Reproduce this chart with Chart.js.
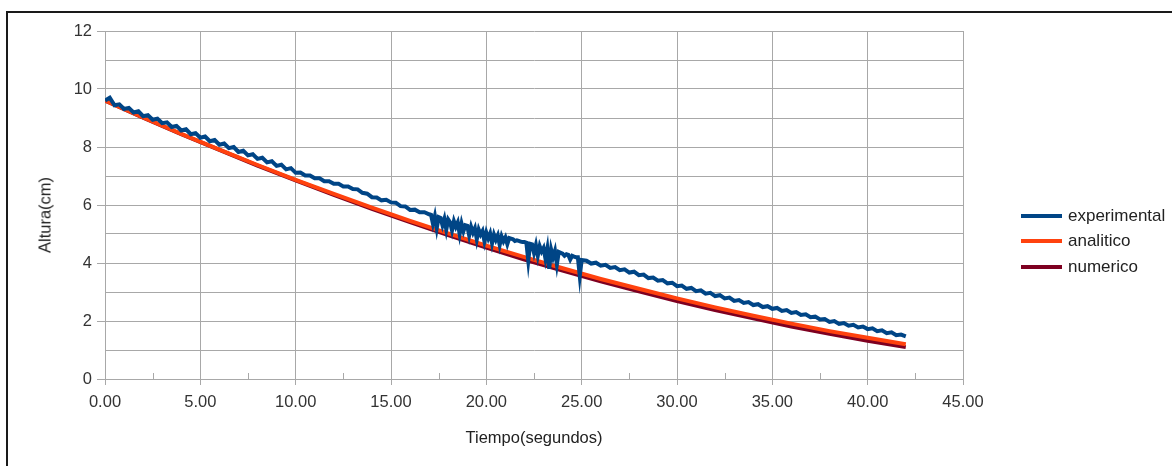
<!DOCTYPE html>
<html lang="es">
<head>
<meta charset="utf-8">
<title>Altura vs Tiempo</title>
<script src="https://cdn.jsdelivr.net/npm/chart.js@4/dist/chart.umd.min.js"></script>
<style>
  body { margin: 0; background: #fff; }
  #marco { position: absolute; left: 0; top: 0; width: 1172px; height: 466px; overflow: hidden; }
  #borde { position: absolute; left: 6px; top: 11px; width: 1200px; height: 500px;
           border-left: 2px solid #1a1a1a; border-top: 2px solid #1a1a1a; }
  #grafico { position: absolute; left: 0; top: 0; }
  #tituloY { position: absolute; left: 45px; top: 215px; transform: translate(-50%, -50%) rotate(-90deg);
             font-family: "Liberation Sans", Arial, sans-serif; font-size: 16.5px; color: #222; white-space: nowrap; }
  #leyenda { position: absolute; left: 1021px; top: 203px; font-family: "Liberation Sans", Arial, sans-serif;
             font-size: 17px; color: #222; }
  .fila { display: flex; align-items: center; height: 25.5px; }
  .muestra { width: 41px; height: 4px; margin-right: 6px; }
</style>
</head>
<body>
<div id="marco">
  <div id="borde"></div>
  <canvas id="grafico" width="1172" height="466"></canvas>
  <div id="tituloY">Altura(cm)</div>
  <div id="leyenda"></div>
</div>
<script>
// Tiempos (s) de las curvas teóricas
const tiempoModelo = [0, 2, 4, 6, 8, 10, 12, 14, 16, 18, 20, 22, 24, 26, 28, 30, 32, 34, 36, 38, 40, 42];

// Altura (cm) solucion analitica
const alturaAnalitico = [9.60, 9.02, 8.45, 7.91, 7.38, 6.87, 6.38, 5.91, 5.45, 5.02, 4.60,
  4.20, 3.82, 3.45, 3.11, 2.78, 2.47, 2.18, 1.91, 1.65, 1.42, 1.20];

// Altura (cm) solucion numerica
const alturaNumerico = [9.60, 9.01, 8.44, 7.90, 7.36, 6.85, 6.35, 5.87, 5.41, 4.96, 4.53,
  4.12, 3.74, 3.37, 3.02, 2.69, 2.38, 2.09, 1.81, 1.56, 1.32, 1.10];

// Medidas experimentales de 0 a 16.75 s, cada 0.25 s (una fila por segundo)
const pasoExp = 0.25;
const alturaExpInicio = [
  9.60, 9.70, 9.44, 9.47,
  9.31, 9.35, 9.19, 9.23,
  9.06, 9.10, 8.94, 8.98,
  8.82, 8.85, 8.69, 8.73,
  8.57, 8.61, 8.44, 8.48,
  8.32, 8.36, 8.20, 8.24,
  8.08, 8.12, 7.96, 8.00,
  7.83, 7.87, 7.71, 7.75,
  7.59, 7.63, 7.47, 7.51,
  7.35, 7.39, 7.23, 7.27,
  7.11, 7.12, 7.02, 7.02,
  6.92, 6.92, 6.82, 6.82,
  6.73, 6.73, 6.64, 6.64,
  6.55, 6.54, 6.42, 6.39,
  6.27, 6.26, 6.16, 6.18,
  6.09, 6.08, 5.96, 5.95,
  5.83, 5.84, 5.75, 5.75
];

// Tramo con ruido, de 17.0 a 24.9 s, cada 0.1 s (una fila por segundo)
const inicioRuido = 17;
const pasoRuido = 0.1;
const alturaExpRuido = [
  5.68, 5.66, 5.35, 5.62, 5.20, 5.58, 5.55, 5.30, 5.52, 5.15,
  5.50, 5.40, 5.12, 5.44, 5.25, 5.40, 5.00, 5.36, 5.10, 5.30,
  5.28, 4.95, 5.25, 5.05, 5.20, 4.82, 5.15, 4.98, 5.10, 4.75,
  5.05, 4.85, 5.02, 4.68, 4.98, 4.80, 4.95, 4.62, 4.92, 4.75,
  4.88, 4.65, 4.86, 4.84, 4.82, 4.76, 4.78, 4.76, 4.74, 4.72,
  4.72, 4.70, 4.08, 4.66, 4.64, 4.35, 4.62, 4.25, 4.58, 4.40,
  4.52, 4.15, 4.50, 3.80, 4.46, 4.20, 4.42, 3.95, 4.38, 4.35,
  4.32, 4.25, 4.30, 4.28, 4.12, 4.25, 4.22, 4.20, 4.20, 3.55
];

// Medidas de 25 a 42 s, cada 0.25 s
const inicioFinal = 25;
const alturaExpFinal = [
  4.10, 4.08, 3.98, 4.01,
  3.91, 3.94, 3.83, 3.86,
  3.75, 3.78, 3.67, 3.70,
  3.58, 3.60, 3.48, 3.50,
  3.39, 3.41, 3.30, 3.32,
  3.20, 3.22, 3.11, 3.14,
  3.03, 3.06, 2.94, 2.97,
  2.86, 2.89, 2.78, 2.81,
  2.69, 2.72, 2.62, 2.65,
  2.55, 2.58, 2.48, 2.51,
  2.42, 2.45, 2.35, 2.38,
  2.28, 2.31, 2.21, 2.23,
  2.13, 2.15, 2.05, 2.07,
  1.97, 2.00, 1.90, 1.93,
  1.84, 1.87, 1.78, 1.81,
  1.72, 1.75, 1.65, 1.68,
  1.58, 1.61, 1.51, 1.53,
  1.47
];

// Marcas menores del eje x
const marcasMenoresX = [2.5, 7.5, 12.5, 17.5, 22.5, 27.5, 32.5, 37.5, 42.5];

const colorRejilla = "#a8a8a8";
const fuente = "'Liberation Sans', Arial, sans-serif";

const puntosExp = [
  ...alturaExpInicio.map((h, i) => ({ x: i * pasoExp, y: h })),
  ...alturaExpRuido.map((h, i) => ({ x: inicioRuido + i * pasoRuido, y: h })),
  ...alturaExpFinal.map((h, i) => ({ x: inicioFinal + i * pasoExp, y: h })),
];
const puntosAna = alturaAnalitico.map((h, i) => ({ x: tiempoModelo[i], y: h }));
const puntosNum = alturaNumerico.map((h, i) => ({ x: tiempoModelo[i], y: h }));

// Marcas pequeñas hacia dentro en el eje x
const marcasMenores = {
  id: "marcasMenores",
  beforeDatasetsDraw(chart) {
    const ctx = chart.ctx;
    const escalaX = chart.scales.x;
    const abajo = chart.chartArea.bottom;
    ctx.save();
    ctx.strokeStyle = colorRejilla;
    ctx.lineWidth = 1;
    marcasMenoresX.forEach((v) => {
      const px = Math.round(escalaX.getPixelForValue(v)) + 0.5;
      ctx.beginPath();
      ctx.moveTo(px, abajo);
      ctx.lineTo(px, abajo - 6);
      ctx.stroke();
    });
    ctx.restore();
  },
};

const grafico = new Chart(document.getElementById("grafico"), {
  type: "line",
  data: {
    datasets: [
      {
        label: "experimental",
        data: puntosExp,
        borderColor: "#004586",
        backgroundColor: "#004586",
        borderWidth: 4,
        pointRadius: 0,
        order: 0,
      },
      {
        label: "analitico",
        data: puntosAna,
        borderColor: "#ff420e",
        backgroundColor: "#ff420e",
        borderWidth: 4,
        pointRadius: 0,
        order: 1,
      },
      {
        label: "numerico",
        data: puntosNum,
        borderColor: "#7e0021",
        backgroundColor: "#7e0021",
        borderWidth: 4,
        pointRadius: 0,
        order: 2,
      },
    ],
  },
  options: {
    responsive: false,
    animation: false,
    devicePixelRatio: 1,
    layout: { padding: { top: 31, right: 209, left: 0, bottom: 0 } },
    plugins: {
      legend: { display: false },
      tooltip: { enabled: false },
    },
    scales: {
      x: {
        type: "linear",
        min: 0,
        max: 45,
        afterFit(escala) { escala.height = 87; },
        ticks: {
          stepSize: 5,
          padding: 8,
          color: "#333",
          font: { family: fuente, size: 16.5 },
          maxRotation: 0,
          callback: (v) => v.toFixed(2),
        },
        grid: { color: colorRejilla, tickLength: 6, tickColor: colorRejilla },
        border: { color: colorRejilla },
        title: {
          display: true,
          text: "Tiempo(segundos)",
          color: "#222",
          font: { family: fuente, size: 16.5 },
          padding: { top: 0, bottom: 18 },
        },
      },
      y: {
        min: 0,
        max: 12,
        afterFit(escala) { escala.width = 105; },
        ticks: {
          stepSize: 1,
          autoSkip: false,
          padding: 5,
          color: "#333",
          font: { family: fuente, size: 16.5 },
          callback: (v) => (v % 2 === 0 ? v : ""),
        },
        grid: {
          color: colorRejilla,
          tickLength: 8,
          tickColor: (c) => (c.tick && c.tick.value % 2 === 0 ? colorRejilla : "rgba(0,0,0,0)"),
        },
        border: { color: colorRejilla },
      },
    },
  },
  plugins: [marcasMenores],
});

// Leyenda en HTML a la derecha
const leyenda = document.getElementById("leyenda");
grafico.data.datasets.forEach((ds) => {
  const fila = document.createElement("div");
  fila.className = "fila";
  const muestra = document.createElement("span");
  muestra.className = "muestra";
  muestra.style.background = ds.borderColor;
  const texto = document.createElement("span");
  texto.textContent = ds.label;
  fila.appendChild(muestra);
  fila.appendChild(texto);
  leyenda.appendChild(fila);
});
</script>
</body>
</html>
